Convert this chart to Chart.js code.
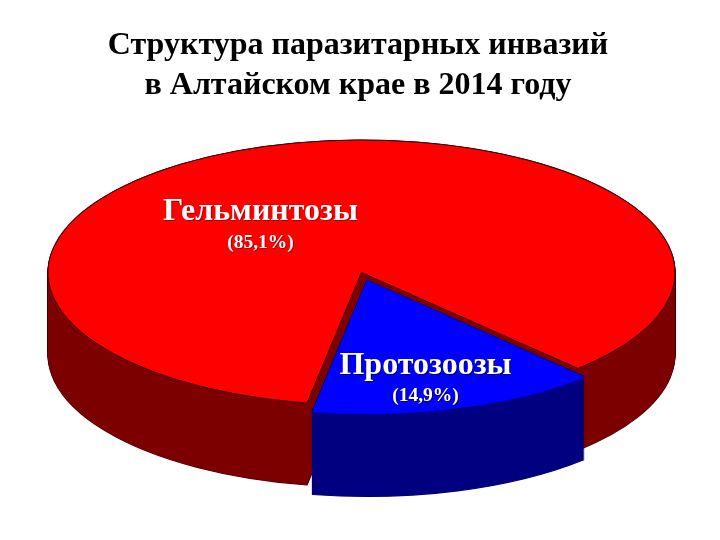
<!DOCTYPE html>
<html><head><meta charset="utf-8">
<style>html,body{margin:0;padding:0;background:#fff}canvas{display:block}</style>
<script src="https://cdn.jsdelivr.net/npm/chart.js@4"></script>
</head><body><canvas id="c" width="720" height="540"></canvas>
<script>
const categories = ['Гельминтозы', 'Протозоозы'];
const values = [85.1, 14.9];
const percentLabels = ['(85,1%)', '(14,9%)'];
const titleLines = ['Структура паразитарных инвазий', 'в Алтайском крае в 2014 году'];
const topColors = ['#ff0000', '#0000ff'];
const wallColors = ['#7d0000', '#000080'];
const edgeColors = ['#3a0000', '#000060'];

const view = {cx: 361.5, cy: 272.5, rx: 313.5, ry: 132.5, depths: [82, 84]};
const labelStyle = [
  {x: 260.5, y: 220, py: 248},
  {x: 425.5, y: 374, py: 401}
];

function arcPath(el, dy) {
  const R = el.outerRadius;
  const sx = view.rx / R, sy = view.ry / R;
  const mid = (el.startAngle + el.endAngle) / 2;
  const off = (el.options.offset || 0) / 4;
  const p = new Path2D();
  const m = new DOMMatrix()
    .translate(view.cx, view.cy + dy)
    .scale(sx, sy)
    .translate(Math.cos(mid) * off, Math.sin(mid) * off);
  const raw = new Path2D();
  raw.moveTo(0, 0);
  raw.arc(0, 0, R, el.startAngle, el.endAngle);
  raw.closePath();
  p.addPath(raw, m);
  return p;
}

const pie3d = {
  id: 'pie3d',
  beforeDatasetsDraw(chart) {
    const ctx = chart.ctx;
    const arcs = chart.getDatasetMeta(0).data;
    arcs.forEach((el, i) => {
      const depth = view.depths[i];
      ctx.save();
      ctx.strokeStyle = edgeColors[i];
      ctx.lineWidth = 1.1;
      for (let d = depth; d >= 0; d--) ctx.stroke(arcPath(el, d));
      ctx.fillStyle = wallColors[i];
      for (let d = depth; d >= 0; d--) ctx.fill(arcPath(el, d));
      ctx.restore();
    });
    const el = arcs[0];
    const R = el.outerRadius;
    ctx.save();
    ctx.translate(view.cx, view.cy);
    ctx.scale(view.rx / R, view.ry / R);
    ctx.translate(-el.x, -el.y);
  },
  afterDatasetsDraw(chart) {
    const ctx = chart.ctx;
    ctx.restore();
    const arcs = chart.getDatasetMeta(0).data;
    ctx.save();
    ctx.strokeStyle = edgeColors[0];
    ctx.lineWidth = 1;
    ctx.stroke(arcPath(arcs[0], 0));
    ctx.restore();
    ctx.save();
    ctx.textAlign = 'center';
    ctx.textBaseline = 'alphabetic';
    ctx.fillStyle = '#ffffff';
    labelStyle.forEach((s, i) => {
      ctx.shadowColor = i === 0 ? 'rgba(90,0,0,0.5)' : 'rgba(0,0,40,0.8)';
      ctx.shadowOffsetX = 1;
      ctx.shadowOffsetY = 1;
      ctx.shadowBlur = 0;
      ctx.font = 'bold 32px "Liberation Serif"';
      ctx.fillText(categories[i], s.x, s.y);
      ctx.font = 'bold 19.5px "Liberation Serif"';
      ctx.fillText(percentLabels[i], s.x, s.py);
    });
    ctx.restore();
  }
};

new Chart(document.getElementById('c'), {
  type: 'pie',
  data: {
    labels: categories,
    datasets: [{
      data: values,
      backgroundColor: topColors,
      borderWidth: 0,
      offset: [0, 45],
      clip: false
    }]
  },
  options: {
    responsive: false,
    animation: false,
    rotation: 190,
    layout: {padding: {right: 4}},
    plugins: {
      legend: {display: false},
      tooltip: {enabled: false},
      title: {
        display: true,
        text: titleLines,
        color: '#000000',
        font: {family: '"Liberation Serif"', size: 32, weight: 'bold', lineHeight: 1.24},
        padding: {top: 26, bottom: 10}
      }
    }
  },
  plugins: [pie3d]
});
</script></body></html>
